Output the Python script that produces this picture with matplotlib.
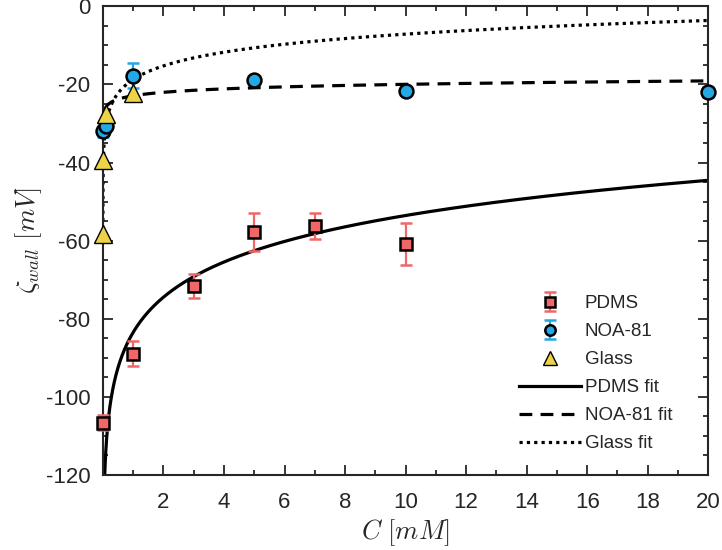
import numpy as np
import matplotlib
matplotlib.use('Agg')
import matplotlib.pyplot as plt
from matplotlib.ticker import MultipleLocator

# datos medidos (C en mM, zeta en mV)
c_pdms = [0.01, 1, 3, 5, 7, 10]
z_pdms = [-106.6, -89.0, -71.6, -57.8, -56.3, -60.8]
e_pdms = [2.0, 3.2, 3.0, 4.8, 3.3, 5.4]

c_noa = [0.01, 0.1, 1, 5, 10, 20]
z_noa = [-32.0, -30.6, -17.8, -18.8, -21.6, -21.9]
e_noa = [1.4, 1.0, 3.2, 0.5, 0.8, 1.2]

c_glass = [0.001, 0.01, 0.1, 1]
z_glass = [-58.4, -39.4, -27.6, -22.2]

# parametros de ajuste: zeta = a + b*ln(C)
fit_pdms = (-83.5, 13.0)
fit_noa = (-22.9, 1.27)
fit_glass = (-18.75, 5.05)

rojo = '#F06767'
azul = '#23A7E6'
amarillo = '#EDD447'
gris = '#262626'

plt.rcParams['font.family'] = ['Liberation Sans', 'DejaVu Sans']
plt.rcParams['mathtext.fontset'] = 'cm'
plt.rcParams['axes.unicode_minus'] = False

fig = plt.figure(figsize=(7.22, 5.5), dpi=100)
ax = fig.add_axes([0.1425, 0.1365, 0.8385, 0.852])

# curvas de ajuste
c1 = np.logspace(np.log10(0.05), np.log10(20), 400)
c2 = np.logspace(-3, np.log10(20), 400)
c3 = np.logspace(np.log10(7.6e-4), np.log10(20), 400)
l1, = ax.plot(c1, fit_pdms[0] + fit_pdms[1] * np.log(c1), '-', color='black', lw=2.3, label='PDMS fit')
l2, = ax.plot(c2, fit_noa[0] + fit_noa[1] * np.log(c2), color='black', lw=2.3,
              linestyle=(0, (4, 2.6)), label='NOA-81 fit')
l3, = ax.plot(c3, fit_glass[0] + fit_glass[1] * np.log(c3), color='black', lw=2.3,
              linestyle=(0, (1, 1.3)), label='Glass fit')

# puntos medidos
h1 = ax.errorbar(c_pdms, z_pdms, yerr=e_pdms, fmt='s', color=rojo, ecolor=rojo,
                 mfc=rojo, mec='black', ms=9, mew=1.8, elinewidth=1.6, capsize=4.5,
                 capthick=1.6, label='PDMS', clip_on=False, zorder=4)
h2 = ax.errorbar(c_noa, z_noa, yerr=e_noa, fmt='o', color=azul, ecolor=azul,
                 mfc=azul, mec='black', ms=10, mew=1.8, elinewidth=1.6, capsize=4.5,
                 capthick=1.6, label='NOA-81', clip_on=False, zorder=4)
h3, = ax.plot(c_glass, z_glass, '^', mfc=amarillo, mec='black', ms=12.5, mew=1.0,
              label='Glass', clip_on=False, zorder=5)

ax.set_xlim(0, 20)
ax.set_ylim(-120, 0)
ax.xaxis.set_minor_locator(MultipleLocator(1))
ax.yaxis.set_major_locator(MultipleLocator(20))
ax.yaxis.set_minor_locator(MultipleLocator(5))
ax.set_xticks(np.arange(2, 21, 2))
ax.set_xticklabels([str(v) for v in range(2, 21, 2)])

ax.tick_params(which='both', direction='in', top=True, right=True, colors=gris,
               labelsize=16, width=1.3)
ax.tick_params(which='major', length=7)
ax.tick_params(which='minor', length=3.5)
ax.tick_params(axis='x', which='major', pad=12)
ax.tick_params(axis='y', which='major', pad=9)
for s in ax.spines.values():
    s.set_color(gris)
    s.set_linewidth(1.5)

ax.set_xlabel(r'$C\ [mM]$', fontsize=19, color=gris, labelpad=3)
ax.set_ylabel(r'$\zeta_{wall}\ [mV]$', fontsize=19, color=gris, labelpad=1)

ley = ax.legend(handles=[h1, h2, h3, l1, l2, l3], loc='upper left',
                bbox_to_anchor=(0.675, 0.40), frameon=False, fontsize=13.5,
                handlelength=3.3, labelspacing=0.58, handletextpad=0.2,
                borderaxespad=0, markerscale=0.75)
for t in ley.get_texts():
    t.set_color(gris)

fig.savefig('out.png', dpi=100)
